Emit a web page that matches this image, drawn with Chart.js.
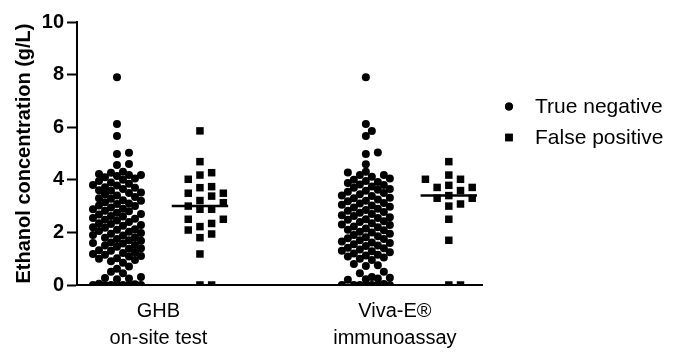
<!DOCTYPE html>
<html><head><meta charset="utf-8">
<script src="https://cdn.jsdelivr.net/npm/chart.js@4/dist/chart.umd.min.js"></script>
<style>html,body{margin:0;padding:0;background:#fff;} #wrap{width:681px;height:354px;position:relative;}</style>
</head><body><div id="wrap"><canvas id="c" width="681" height="354"></canvas></div>
<script>
// ---- data ----
const groupLabels = [["GHB", "on-site test"], ["Viva-E®", "immunoassay"]];
const seriesNames = ["True negative", "False positive"];
const yTickValues = [0, 2, 4, 6, 8, 10];
const yTitle = "Ethanol concentration (g/L)";

const ghbTrueNeg = [
  0,0,0,0,0,0,0,0.03,0.05,
  0.22,0.25,0.27,0.3,
  0.45,0.5,0.62,0.7,
  0.85,0.9,0.95,1.0,1.02,1.08,1.1,1.15,1.18,1.22,1.25,1.3,1.32,1.38,1.4,1.45,1.5,1.52,1.58,1.6,1.62,1.68,1.7,1.75,1.8,1.82,1.88,1.9,1.95,1.98,
  2.02,2.05,2.1,2.12,2.18,2.2,2.25,2.28,2.32,2.35,2.4,2.45,2.48,2.52,2.55,2.6,2.62,2.68,2.7,2.75,2.8,2.82,2.88,2.9,2.95,
  3.0,3.02,3.08,3.1,3.15,3.2,3.22,3.28,3.3,3.35,3.4,3.45,3.5,3.52,3.58,3.6,3.65,3.7,3.72,3.78,3.8,3.85,3.9,3.95,
  4.0,4.05,4.1,4.14,4.18,4.18,4.22,4.27,4.31,
  4.56,4.6,4.98,5.03,5.67,6.12,7.9
];
const ghbFalsePos = [0,0,1.18,1.80,1.94,2.09,2.22,2.34,2.50,2.50,2.88,2.88,3.00,3.13,3.21,3.38,3.49,3.49,3.70,3.74,4.02,4.18,4.27,4.69,5.86];

const vivaTrueNeg = [
  0,0,0,0,0,0,0,0.04,
  0.2,0.22,0.25,0.28,0.3,
  0.45,0.5,0.72,0.75,0.8,
  0.95,1.0,1.05,1.08,1.12,1.15,1.2,1.25,1.28,1.3,1.35,1.4,1.42,1.48,1.5,1.55,1.6,1.62,1.65,1.7,1.75,1.78,1.82,1.85,1.9,1.95,
  2.0,2.02,2.08,2.1,2.15,2.2,2.22,2.28,2.3,2.35,2.4,2.42,2.48,2.5,2.55,2.58,2.62,2.65,2.7,2.75,2.78,2.82,2.85,2.9,2.95,2.98,
  3.02,3.05,3.1,3.12,3.18,3.2,3.25,3.3,3.32,3.38,3.4,3.45,3.5,3.55,3.58,3.62,3.65,3.7,3.75,3.8,3.82,3.88,3.92,3.95,
  4.0,4.05,4.12,4.18,4.18,4.28,4.31,
  4.59,4.98,5.04,5.67,5.86,6.12,7.9
];
const vivaFalsePos = [0,0,1.70,2.50,3.00,3.08,3.30,3.30,3.40,3.59,3.71,3.71,3.79,4.02,4.02,4.18,4.69];

// ---- layout helpers (column positions on the linear x scale) ----
const POS = {ghbTN: 1, ghbFP: 2, vivaTN: 4, vivaFP: 5};
const PX_X = 83;    // pixels per x unit
const PX_Y = 26.25; // pixels per y unit

function swarm(values, center, stepPx, minD, maxK) {
  const sorted = values.slice().sort((a, b) => a - b);
  const order = [0];
  for (let k = 1; k <= maxK; k++) order.push(k, -k);
  const placed = [];
  for (const v of sorted) {
    const py = v * PX_Y;
    let best = 0, bestD = -1;
    for (const k of order) {
      const px = k * stepPx;
      let m = Infinity;
      for (const p of placed) {
        const d = Math.hypot(p.px - px, p.py - py);
        if (d < m) m = d;
      }
      if (m >= minD - 1e-9) { best = px; bestD = m; break; }
      if (m > bestD + 0.5) { bestD = m; best = px; }
    }
    placed.push({px: best, py});
  }
  return placed.map((p, i) => ({x: center + p.px / PX_X, y: sorted[i]}));
}
function median(arr) {
  const s = arr.slice().sort((a, b) => a - b);
  const n = s.length;
  return n % 2 ? s[(n - 1) / 2] : (s[n / 2 - 1] + s[n / 2]) / 2;
}
function medLine(arr, c) {
  const m = median(arr);
  return [{x: c - 0.34, y: m}, {x: c + 0.34, y: m}];
}

const FONT = "'Liberation Sans', Arial, Helvetica, sans-serif";

const legendPlugin = {
  id: 'sideLegend',
  afterDraw(chart) {
    const ctx = chart.ctx, a = chart.chartArea;
    const items = [
      {ds: 0, style: 'circle', r: 3.9, dy: 84.5},
      {ds: 1, style: 'rect', r: 5.3, dy: 115.5}
    ];
    ctx.save();
    ctx.font = "21px " + FONT;
    ctx.textBaseline = 'middle';
    ctx.textAlign = 'left';
    items.forEach((it) => {
      const y = a.top + it.dy;
      ctx.fillStyle = '#000';
      Chart.helpers.drawPoint(ctx, {pointStyle: it.style, radius: it.r, borderWidth: 0, rotation: 0}, a.right + 27, y);
      ctx.fill();
      ctx.fillText(seriesNames[it.ds], a.right + 53, y + 1);
    });
    ctx.restore();
  }
};

new Chart(document.getElementById('c'), {
  type: 'scatter',
  data: {
    datasets: [
      {
        label: seriesNames[0],
        data: [...swarm(ghbTrueNeg, POS.ghbTN, 6, 6.6, 4), ...swarm(vivaTrueNeg, POS.vivaTN, 6, 6.6, 4)],
        pointStyle: 'circle', pointRadius: 4, backgroundColor: '#000', borderColor: '#000', borderWidth: 0
      },
      {
        label: seriesNames[1],
        data: [...swarm(ghbFalsePos, POS.ghbFP, 11.7, 8.5, 2), ...swarm(vivaFalsePos, POS.vivaFP, 11.7, 8.5, 2)],
        pointStyle: 'rect', pointRadius: 5.3, backgroundColor: '#000', borderColor: '#000', borderWidth: 0
      },
      {type: 'line', data: medLine(ghbFalsePos, POS.ghbFP), borderColor: '#000', borderWidth: 2.5, pointRadius: 0, showLine: true, fill: false},
      {type: 'line', data: medLine(vivaFalsePos, POS.vivaFP), borderColor: '#000', borderWidth: 2.5, pointRadius: 0, showLine: true, fill: false}
    ]
  },
  options: {
    responsive: false,
    animation: false,
    events: [],
    layout: {padding: {top: 22, right: 199, left: 0, bottom: 0}},
    plugins: {legend: {display: false}, tooltip: {enabled: false}},
    scales: {
      x: {
        type: 'linear', min: 0.518, max: 5.4,
        afterBuildTicks: (s) => { s.ticks = [{value: 1.5}, {value: 4.35}]; },
        afterFit: (s) => { s.height = 69; },
        ticks: {
          autoSkip: false, maxRotation: 0, padding: 13, color: '#000',
          font: {family: FONT, size: 20, lineHeight: 1.35},
          callback: (v, i) => groupLabels[i]
        },
        grid: {display: false, drawTicks: false},
        border: {display: true, color: '#000', width: 2}
      },
      y: {
        min: 0, max: 10,
        afterBuildTicks: (s) => { s.ticks = yTickValues.map(v => ({value: v})); },
        afterFit: (s) => { s.width = 77; },
        ticks: {color: '#000', padding: 3, font: {family: FONT, size: 20, weight: 'bold'}},
        grid: {drawOnChartArea: false, drawTicks: true, tickLength: 10, tickColor: '#000', tickWidth: 2},
        border: {display: true, color: '#000', width: 2},
        title: {display: true, text: yTitle, color: '#000', font: {family: FONT, size: 20, weight: 'bold'}, padding: {top: 12, bottom: 0}}
      }
    }
  },
  plugins: [legendPlugin]
});
</script></body></html>
